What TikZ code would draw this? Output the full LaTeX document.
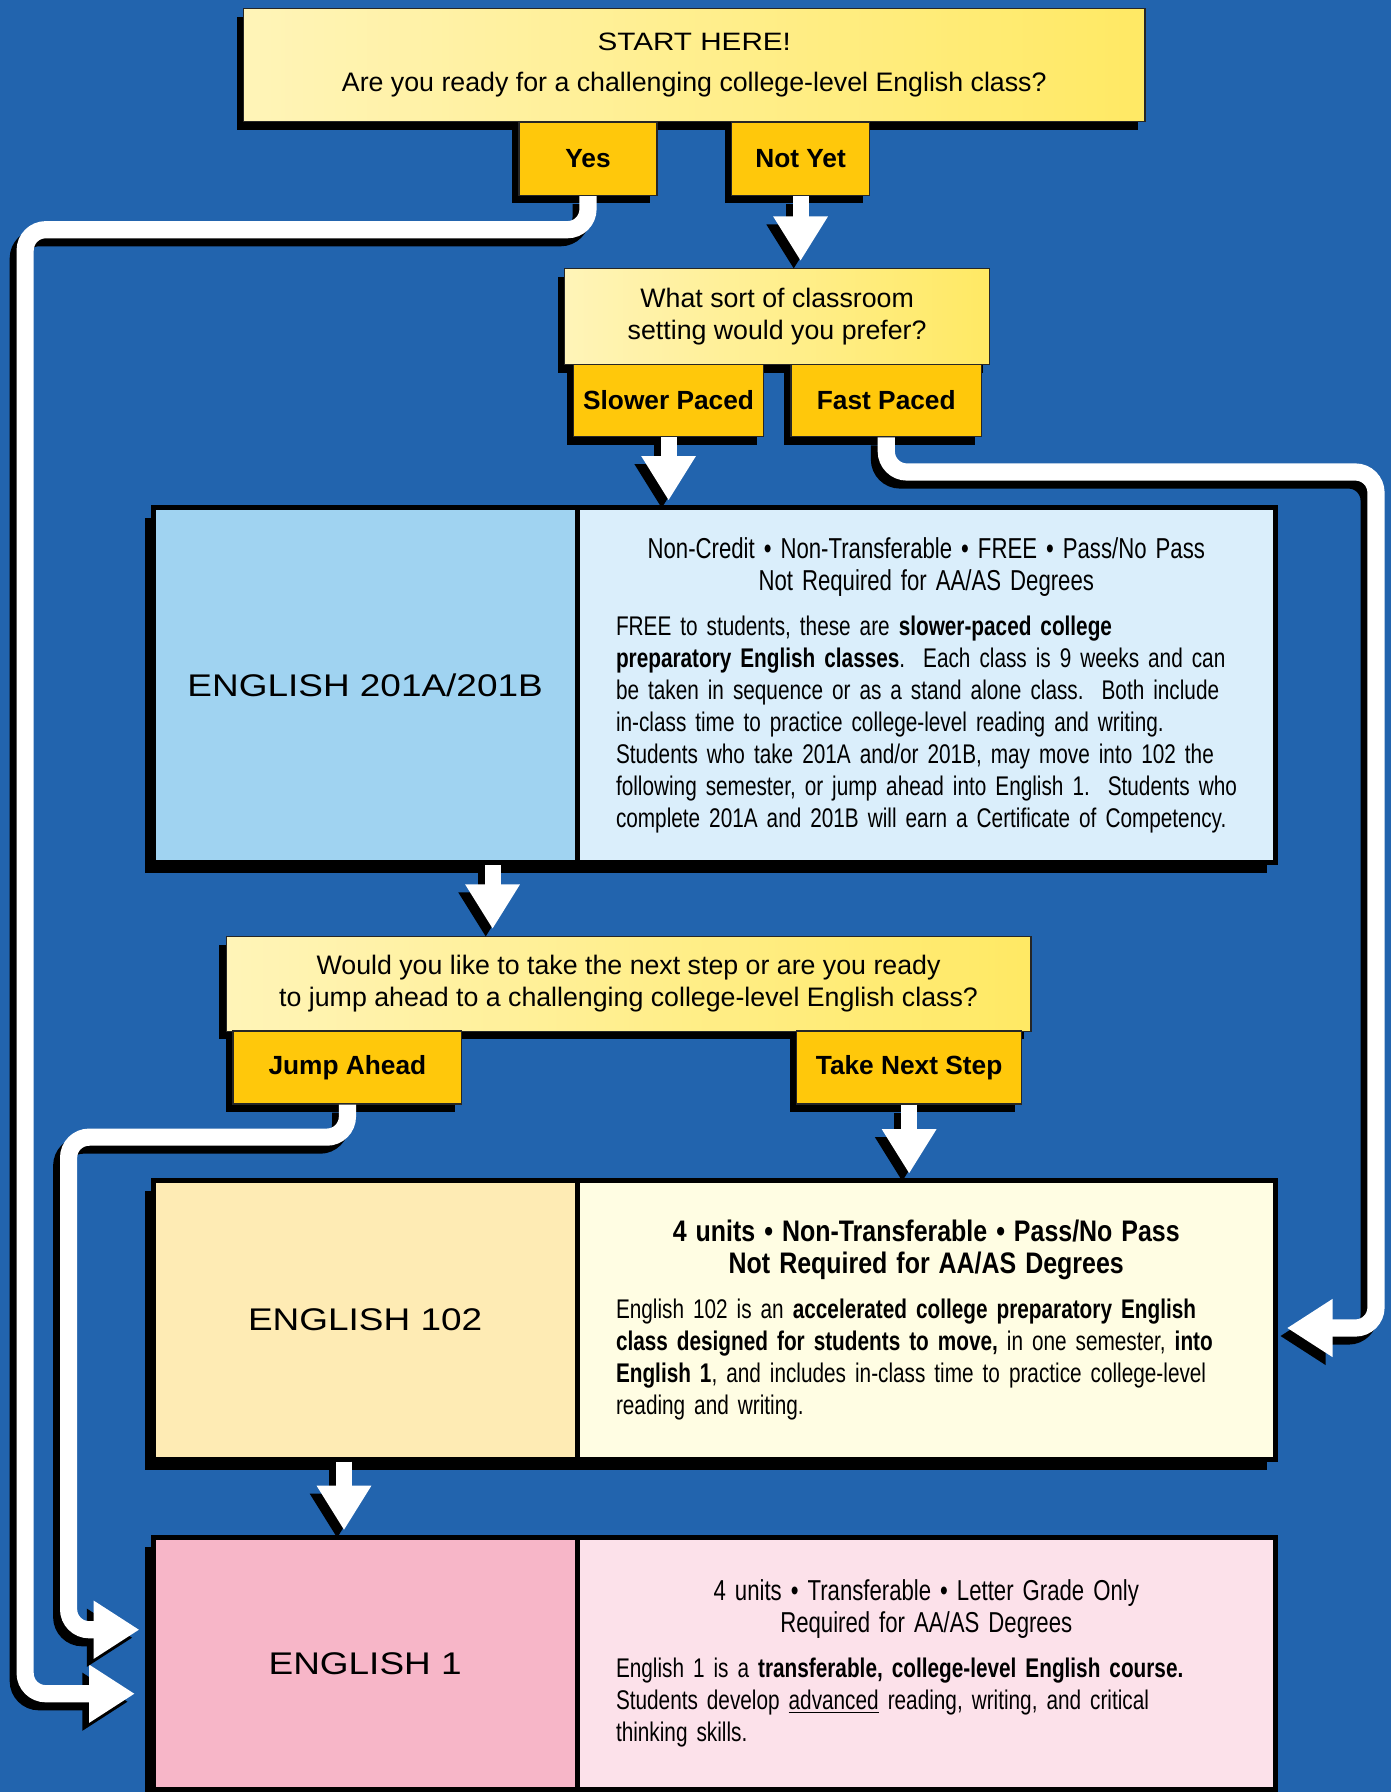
\documentclass[tikz,border=0pt]{standalone}
\usepackage{fontspec}
\setmainfont{Liberation Sans}
\newfontfamily\narrowfont[FakeStretch=0.77]{Liberation Sans}
\newfontfamily\headfont[FakeStretch=0.84]{Liberation Sans}
\newfontfamily\widefont[FakeStretch=1.18]{Liberation Sans}
\usetikzlibrary{positioning,shadows,arrows.meta}
\definecolor{bgblue}{HTML}{2264AE}
\definecolor{qlight}{HTML}{FFF4B8}
\definecolor{qdark}{HTML}{FFE964}
\definecolor{ansgold}{HTML}{FFC80B}
\definecolor{blueL}{HTML}{A0D3F1}
\definecolor{blueR}{HTML}{DAEEFB}
\definecolor{tanL}{HTML}{FEEBB4}
\definecolor{tanR}{HTML}{FFFDE3}
\definecolor{pinkL}{HTML}{F7B6C8}
\definecolor{pinkR}{HTML}{FCE1EA}
\tikzset{
  dropblack/.style={drop shadow={shadow xshift=-3pt,shadow yshift=-3.5pt,fill=black,opacity=1}},
  ask/.style={draw=black!85,line width=0.6pt,left color=qlight,right color=qdark,align=center,inner sep=0pt,
    font=\fontsize{11.7}{14}\selectfont,dropblack},
  ans/.style={draw=black!85,line width=0.6pt,fill=ansgold,inner sep=0pt,minimum height=32pt,
    font=\bfseries\fontsize{11.5}{14}\selectfont,dropblack},
  course/.style={draw=black,line width=2.2pt,outer sep=0pt,minimum width=185.5pt,
    font=\widefont\fontsize{13.7}{16}\selectfont,
    drop shadow={shadow xshift=-3.5pt,shadow yshift=-4.5pt,fill=black,opacity=1}},
  info/.style={draw=black,line width=2.2pt,outer sep=0pt,minimum width=305.5pt,text width=290pt,
    inner xsep=0pt,align=left,font=\narrowfont\fontsize{11.8}{14}\selectfont,
    execute at begin node={\hyphenpenalty=10000\relax},
    drop shadow={shadow xshift=-3.5pt,shadow yshift=-4.5pt,fill=black,opacity=1}},
  flow/.style={line width=7pt,white,-{Triangle[width=22.5pt,length=19.5pt]}},
  flowshade/.style={flow,black,transform canvas={xshift=-3pt,yshift=-3.5pt}},
  pipe/.style={line width=7.5pt,white,rounded corners=9pt,-{Triangle[width=24pt,length=20pt]}},
  pipeshade/.style={pipe,black,transform canvas={xshift=-3pt,yshift=-3.5pt}}
}
\begin{document}
\begin{tikzpicture}[x=0.5pt,y=-0.5pt]
	\fill[bgblue] (0,0) rectangle (1217,1568);
	\useasboundingbox (0,0) rectangle (1217,1568);
	% questions and answers
	\node[ask,minimum width=394.5pt,minimum height=49.5pt] (start) at (607.5,57)
		{{\widefont\fontsize{11}{14}\selectfont START HERE!}\\[4pt]Are you ready for a challenging college-level English class?};
	\node[ans,minimum width=60.5pt] (yes) at (514.5,139) {Yes};
	\node[ans,minimum width=60.5pt] (notyet) at (700.5,139) {Not Yet};
	\node[ask,minimum width=186pt,minimum height=42pt] (setting) at (680,277) {What sort of classroom\\setting would you prefer?};
	\node[ans,minimum width=83pt,minimum height=31.5pt] (slower) at (585,350.5) {Slower Paced};
	\node[ans,minimum width=83.5pt,minimum height=31.5pt] (fast) at (775.5,350.5) {Fast Paced};
	% English 201A/201B
	\node[info,fill=blueR,minimum height=155.5pt] (i201) at (810.5,599.5)
		{{\centering\fontsize{12.6}{14}\selectfont Non-Credit • Non-Transferable • FREE • Pass/No Pass\\Not Required for AA/AS Degrees\par}
		\vspace{5.5pt}{\leftskip=9.25pt FREE to students, these are \textbf{slower-paced college}\\
		\textbf{preparatory English classes}.\ \ Each class is 9 weeks and can\\
		be taken in sequence or as a stand alone class.\ \ Both include\\
		in-class time to practice college-level reading and writing.\\
		Students who take 201A and/or 201B, may move into 102 the\\
		following semester, or jump ahead into English 1.\ \ Students who\\
		complete 201A and 201B will earn a Certificate of Competency.\par}};
	\node[course,fill=blueL,minimum height=155.5pt,left=0pt of i201] (e201) {ENGLISH 201A/201B};
	\node[ask,minimum width=352pt,minimum height=41.5pt] (nextstep) at (550,861)
		{Would you like to take the next step or are you ready\\to jump ahead to a challenging college-level English class?};
	\node[ans,minimum width=100pt] (jump) at (304,934) {Jump Ahead};
	\node[ans,minimum width=98.5pt] (take) at (795.5,934) {Take Next Step};
	% English 102
	\node[info,fill=tanR,minimum height=122pt] (i102) at (810.5,1155)
		{{\centering\headfont\bfseries\fontsize{13}{14}\selectfont 4 units • Non-Transferable • Pass/No Pass\\Not Required for AA/AS Degrees\par}
		\vspace{5.5pt}{\leftskip=9.25pt English 102 is an \textbf{accelerated college preparatory English}\\
		\textbf{class designed for students to move,} in one semester, \textbf{into}\\
		\textbf{English 1}, and includes in-class time to practice college-level\\
		reading and writing.\par}};
	\node[course,fill=tanL,minimum height=122pt,left=0pt of i102] (e102) {ENGLISH 102};
	% English 1
	\node[info,fill=pinkR,minimum height=110.5pt] (i1) at (810.5,1455.5)
		{{\centering\fontsize{12.6}{14}\selectfont 4 units • Transferable • Letter Grade Only\\Required for AA/AS Degrees\par}
		\vspace{5.5pt}{\leftskip=9.25pt English 1 is a \textbf{transferable, college-level English course.}\\
		Students develop \underline{advanced} reading, writing, and critical\\
		thinking skills.\par}};
	\node[course,fill=pinkL,minimum height=110.5pt,left=0pt of i1] (e1) {ENGLISH 1};
	% arrow ends
	\coordinate (d201) at (431,757);
	\coordinate (d102) at (301,1279);
	\coordinate (yesin) at (118,1482);
	\coordinate (jumpin) at (122,1426);
	\coordinate (fastin) at (1126,1162);
	% straight arrows
	\foreach \a/\b in {notyet.south/setting, slower.south/e201, d201/nextstep, take.south/i102, d102/e1}{
		\draw[flowshade] (\a) -- ([yshift=3pt]\a |- \b.north);
		\draw[flow] (\a) -- ([yshift=3pt]\a |- \b.north);
	}
	% pipes
	\draw[pipeshade] (yes.south) |- (22,201) |- (yesin);
	\draw[pipe] (yes.south) |- (22,201) |- (yesin);
	\draw[pipeshade] (jump.south) |- (60,995) |- (jumpin);
	\draw[pipe] (jump.south) |- (60,995) |- (jumpin);
	\draw[pipeshade] (fast.south) |- (1204,413) |- (fastin);
	\draw[pipe] (fast.south) |- (1204,413) |- (fastin);
\end{tikzpicture}
\end{document}
